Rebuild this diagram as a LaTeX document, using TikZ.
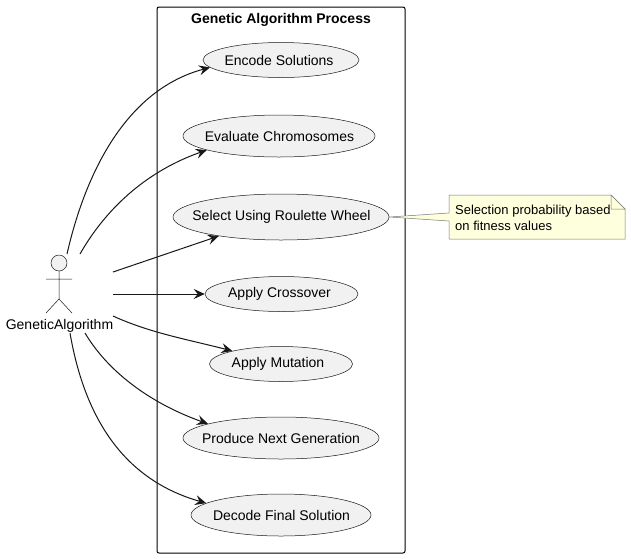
\documentclass[tikz,border=0pt]{standalone}
\usepackage{fontspec}
\setmainfont{Liberation Sans}
\usetikzlibrary{shapes.geometric,arrows.meta}
\definecolor{ucfill}{HTML}{F1F1F1}
\definecolor{ucline}{HTML}{181818}
\definecolor{notefill}{HTML}{FEFFDD}
\definecolor{noteline}{HTML}{777777}
\newcommand{\uctext}[2][0pt]{\makebox[0pt][c]{\hspace*{#1}\raisebox{-.5pt}{#2}}}
\tikzset{
  x=1pt,y=-1pt,
  usecase/.style={ellipse,draw=ucline,fill=ucfill,line width=.5pt,inner sep=0pt,font=\fontsize{14}{16}\selectfont},
  link/.style={draw=ucline,line width=1pt,-{Stealth[length=11pt,width=10pt,inset=4pt]}},
  actorline/.style={draw=ucline,line width=.5pt},
  notelabel/.style={anchor=west,inner sep=0pt,font=\fontsize{13}{16}\selectfont,align=left}
}
\begin{document}
\begin{tikzpicture}
\useasboundingbox (0,0) rectangle (631,558);
\fill[white] (0,0) rectangle (631,558);
\node[draw=black,line width=1pt,rounded corners=2pt,minimum width=248pt,minimum height=546pt,inner sep=0pt] (frame) at (281,280) {};
\node[font=\bfseries\fontsize{14}{16}\selectfont,inner sep=0pt] (title) at (281,19.5) {Genetic Algorithm Process};
\node[usecase,minimum width=156pt,minimum height=35pt] (e1) at (281,60) {\uctext[-4pt]{Encode Solutions}};
\node[usecase,minimum width=192pt,minimum height=42pt] (e2) at (279,136) {\uctext[1pt]{Evaluate Chromosomes}};
\node[usecase,minimum width=216pt,minimum height=46pt] (e3) at (281,217) {\uctext[1pt]{Select Using Roulette Wheel}};
\node[usecase,minimum width=153pt,minimum height=35pt] (e4) at (281.5,294) {\uctext[-4pt]{Apply Crossover}};
\node[usecase,minimum width=143pt,minimum height=35pt] (e5) at (281,364) {\uctext[-6pt]{Apply Mutation}};
\node[usecase,minimum width=196pt,minimum height=42pt] (e6) at (281,438) {\uctext{Produce Next Generation}};
\node[usecase,minimum width=180pt,minimum height=42pt] (e7) at (281,515) {\uctext[1pt]{Decode Final Solution}};
% actor
\draw[actorline,fill=ucfill] (59,263) circle (8);
\draw[actorline] (59,271) -- (59,299) (46,279) -- (72,279) (46,313) -- (59,299) -- (72,313);
\node[font=\fontsize{14}{16}\selectfont,inner sep=0pt] (actor) at (59.5,325.5) {GeneticAlgorithm};
\coordinate (a1) at (67,254);
\coordinate (a2) at (80,254);
\coordinate (a3) at (113,272);
\coordinate (a4) at (113,294);
\coordinate (a5) at (113,316);
\coordinate (a6) at (85,333);
\coordinate (a7) at (70,333);
\draw[link] (a1) .. controls (85,175) and (125,90) .. (e1.186);
\draw[link] (a2) .. controls (108,205) and (150,170) .. (e2.191);
\draw[link] (a3) -- (e3.197);
\draw[link] (a4) -- (e4.west);
\draw[link] (a5) .. controls (150,333) and (190,340) .. (e5.165);
\draw[link] (a6) .. controls (110,375) and (155,405) .. (e6.169);
\draw[link] (a7) .. controls (85,420) and (125,480) .. (e7.171);
% note
\coordinate (n1) at (449,195);
\coordinate (n2) at (611,195);
\coordinate (n3) at (625,209);
\coordinate (n4) at (625,239);
\coordinate (n5) at (449,239);
\draw[draw=noteline,fill=notefill,line width=.5pt] (n1) -- (449,213) -- (e3.east) -- (449,221) -- (n5) -- (n4) -- (n3) -- (n2) -- cycle;
\draw[draw=noteline,fill=notefill,line width=.5pt] (n2) -- (611,209) -- (n3) -- cycle;
\node[notelabel] (note) at (455,217.5) {Selection probability based\\on fitness values};
\end{tikzpicture}
\end{document}
